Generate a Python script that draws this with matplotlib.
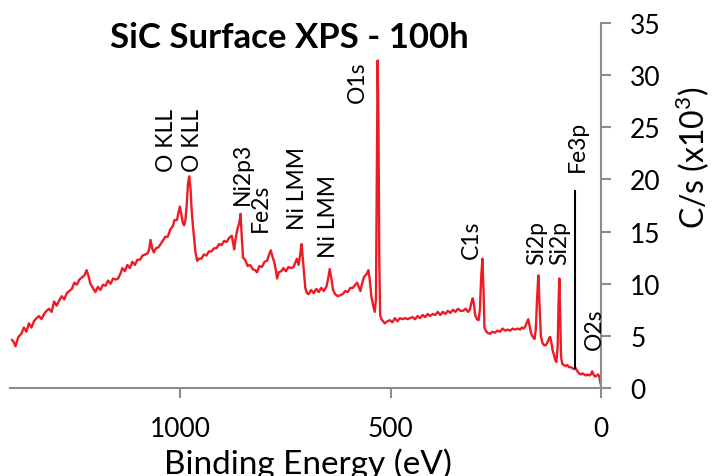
import matplotlib
matplotlib.use("Agg")
import matplotlib.pyplot as plt

plt.rcParams["font.family"] = ["Lato", "DejaVu Sans"]
plt.rcParams["mathtext.fontset"] = "custom"
plt.rcParams["mathtext.rm"] = "Lato"

# binding energy (eV) and counts (C/s x10^3)
energy = [1400, 1396, 1392, 1385, 1378, 1372, 1366, 1360, 1354, 1348, 1342, 1336, 1330, 1324,
          1318, 1312, 1306, 1300, 1294, 1288, 1282, 1276, 1270, 1264, 1258, 1252, 1246, 1240,
          1234, 1228, 1223, 1218, 1214, 1208, 1202, 1196, 1190, 1184, 1178, 1172, 1166, 1160,
          1154, 1148, 1142, 1138, 1132, 1126, 1120, 1114, 1108, 1102, 1096, 1090, 1084, 1078,
          1074, 1071, 1067, 1063, 1058, 1052, 1047, 1042, 1036, 1030, 1024, 1018, 1014, 1008,
          1004, 1001, 998, 994, 991, 988, 985, 982, 979, 976, 973, 970, 967, 964, 960, 956,
          950, 944, 938, 932, 926, 920, 914, 908, 902, 896, 890, 884, 878, 875, 872, 868,
          864, 860, 857, 854, 851, 846, 840, 834, 828, 822, 818, 812, 806, 800, 794, 789,
          785, 781, 777, 773, 770, 766, 760, 755, 749, 743, 737, 731, 727, 723, 719, 715,
          712, 709, 706, 703, 699, 695, 689, 683, 677, 671, 665, 659, 653, 649, 645, 641,
          637, 632, 626, 620, 614, 608, 602, 596, 590, 584, 580, 576, 572, 568, 564, 560,
          556, 553, 550, 546, 542, 538, 535, 533, 531, 529, 527, 525, 522, 518, 514, 508,
          502, 496, 490, 484, 478, 472, 466, 460, 454, 448, 442, 436, 430, 424, 418, 412,
          406, 400, 394, 388, 382, 376, 370, 364, 358, 352, 346, 340, 334, 328, 322, 316,
          312, 308, 305, 302, 299, 295, 291, 288, 285, 282, 279, 277, 274, 270, 264, 258,
          252, 246, 240, 234, 228, 222, 216, 210, 204, 198, 192, 188, 184, 180, 176, 173,
          170, 166, 162, 158, 155, 152, 149, 146, 143, 139, 135, 131, 127, 123, 121, 118,
          115, 112, 109, 106, 103, 101, 99, 97, 95, 92, 88, 84, 80, 76, 72, 68,
          64, 60, 56, 52, 48, 44, 40, 36, 32, 28, 24, 21, 18, 14, 10, 7,
          4, 2, 0]
counts = [4.6, 4.4, 4.0, 4.9, 5.2, 5.8, 5.4, 6.2, 5.8, 6.4, 6.7, 6.9, 6.6, 7.1,
          7.4, 7.6, 7.3, 8.3, 7.9, 8.4, 8.8, 8.5, 9.1, 9.3, 9.5, 10.1, 9.9, 10.4,
          10.6, 10.8, 11.3, 10.7, 10.0, 9.6, 9.2, 9.7, 9.4, 9.9, 9.8, 10.3, 10.0, 10.5,
          10.4, 10.5, 11.0, 11.5, 11.2, 11.8, 11.5, 12.1, 11.8, 12.3, 12.3, 12.7, 12.8, 12.9,
          13.3, 14.2, 13.4, 13.0, 13.4, 13.5, 13.8, 14.1, 14.5, 14.5, 15.2, 15.5, 16.1, 16.1,
          16.9, 17.4, 16.7, 15.8, 15.6, 16.1, 17.5, 19.5, 20.3, 19.2, 17.0, 15.5, 14.2, 13.0, 12.2, 12.4,
          12.4, 12.8, 12.7, 13.1, 13.1, 13.4, 13.4, 13.8, 13.7, 14.1, 14.0, 14.4, 14.6, 14.0, 13.3, 14.5,
          15.3, 15.8, 16.7, 14.5, 12.5, 12.3, 11.7, 11.8, 11.4, 11.3, 11.1, 11.7, 11.6, 12.1, 12.2, 12.8,
          13.2, 12.6, 12.1, 11.3, 10.5, 11.1, 11.2, 11.5, 11.2, 11.6, 11.5, 11.6, 12.0, 12.4, 11.8, 12.8,
          13.8, 12.5, 11.0, 9.6, 9.1, 9.0, 9.4, 9.1, 9.5, 9.2, 9.6, 9.3, 9.7, 10.4, 11.4, 10.5,
          9.4, 9.0, 8.8, 8.9, 9.0, 9.3, 9.2, 9.6, 9.6, 9.9, 10.1, 9.7, 9.3, 10.0, 10.6, 10.8,
          11.0, 11.3, 10.5, 8.8, 8.0, 7.3, 8.5, 20.0, 31.4, 25.0, 12.0, 7.0, 6.6, 6.4, 6.2, 6.4,
          6.5, 6.3, 6.7, 6.4, 6.7, 6.6, 6.7, 6.6, 6.7, 6.8, 6.6, 6.9, 6.7, 7.0, 6.8, 7.1,
          6.9, 7.1, 7.0, 7.3, 7.0, 7.3, 7.1, 7.4, 7.2, 7.5, 7.3, 7.6, 7.4, 7.4, 7.6, 7.3,
          7.5, 8.2, 8.6, 8.0, 7.0, 6.6, 6.5, 7.5, 10.5, 12.4, 9.0, 5.8, 5.5, 5.3, 5.2, 5.4,
          5.3, 5.5, 5.4, 5.7, 5.5, 5.6, 5.5, 5.7, 5.6, 5.7, 5.6, 5.8, 5.7, 5.9, 6.3, 6.6,
          6.0, 5.2, 4.9, 4.7, 5.6, 8.5, 10.8, 8.0, 5.0, 4.3, 4.1, 4.1, 4.4, 4.8, 4.9, 4.4,
          3.6, 3.2, 2.7, 2.5, 4.0, 8.0, 10.5, 7.0, 3.0, 2.3, 2.2, 2.1, 2.2, 2.0, 2.0, 1.9,
          1.8, 1.9, 1.6, 1.4, 1.3, 1.4, 1.3, 1.2, 1.3, 1.2, 1.3, 1.6, 1.3, 1.1, 1.2, 1.3,
          1.1, 0.6, 0.3]

# peak labels: text, energy, height of label start
peak_names = ["O KLL", "O KLL", "Ni2p3", "Fe2s", "Ni LMM", "Ni LMM", "O1s", "C1s",
              "Si2p", "Si2p", "Fe3p", "O2s"]
peak_energy = [1033, 971, 852, 810, 722, 648, 580, 307, 153, 97, 55, 16]
peak_y = [20.8, 20.8, 17.6, 15.1, 15.2, 12.6, 27.4, 12.5, 11.9, 11.9, 20.8, 3.7]

# Fe3p marker line
fe3p_x = [62, 62]
fe3p_y = [1.9, 18.9]

grey = "#8c8c8c"

fig = plt.figure(figsize=(7.12, 4.77), dpi=100)
ax = fig.add_axes([10 / 712, 88 / 477, 591 / 712, 365 / 477])

ax.plot(energy, counts, color="#ed1c24", lw=1.7)
ax.plot(fe3p_x, fe3p_y, color="black", lw=1.5)

for name, e, y in zip(peak_names, peak_energy, peak_y):
    ax.text(e, y, name, rotation=90, ha="center", va="bottom", fontsize=16.5)

ax.set_xlim(1405, 0)
ax.set_ylim(0, 35)
ax.set_xticks([1000, 500, 0])
ax.set_yticks(range(0, 36, 5))

ax.spines["top"].set_visible(False)
ax.spines["left"].set_visible(False)
for s in ["bottom", "right"]:
    ax.spines[s].set_color(grey)
    ax.spines[s].set_linewidth(1.5)

ax.yaxis.tick_right()
ax.tick_params(axis="both", direction="out", length=7, width=1.5, color=grey,
               labelsize=19)
ax.tick_params(axis="x", pad=13)
ax.tick_params(axis="y", pad=14)

fig.text(289 / 712, 1 - 38 / 477, "SiC Surface XPS - 100h", ha="center", va="center",
         fontsize=25, fontweight="bold")
fig.text(308 / 712, 1 - 474 / 477, "Binding Energy (eV)", ha="center", va="baseline",
         fontsize=24)
fig.text(693 / 712, 1 - 158 / 477, "C/s (x10$^3$)", ha="center", va="center",
         rotation=90, fontsize=23)

fig.savefig("out.png", dpi=100)
